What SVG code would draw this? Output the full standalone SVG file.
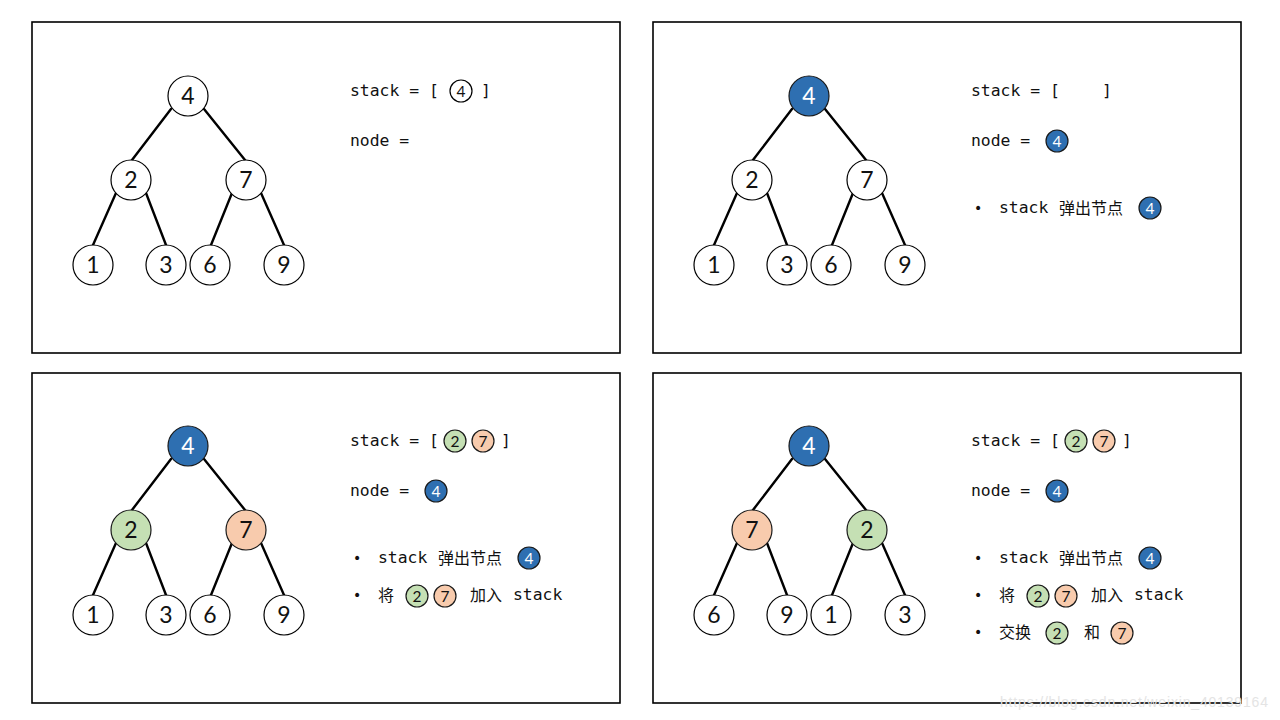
<svg xmlns="http://www.w3.org/2000/svg" width="1280" height="720" viewBox="0 0 1280 720">
<defs>
<style>
.panel{fill:#fff;stroke:#000;stroke-width:1.6}
.edge{stroke:#000;stroke-width:2.4;fill:none;stroke-linecap:round}
.n{fill:#fff;stroke:#000;stroke-width:1.2}
.blue{fill:#2E6FB1;stroke:#1a1a1a;stroke-width:1.2}
.green{fill:#C5E0B4;stroke:#1a1a1a;stroke-width:1.2}
.orange{fill:#F8CBAD;stroke:#1a1a1a;stroke-width:1.2}
.t{font-family:Lato,"Open Sans",sans-serif;font-size:23px;text-anchor:middle;fill:#111}
.tw{font-family:Lato,"Open Sans",sans-serif;font-size:23px;text-anchor:middle;fill:#fff}
.s{font-family:Lato,"Open Sans",sans-serif;font-size:15.5px;text-anchor:middle;fill:#111}
.sw{font-family:Lato,"Open Sans",sans-serif;font-size:15.5px;text-anchor:middle;fill:#fff}
.m{font-family:"DejaVu Sans Mono","Liberation Mono","Noto Sans CJK SC",monospace;font-size:16.4px;fill:#111;white-space:pre}
.c{font-family:"Noto Sans CJK SC",sans-serif;font-size:16px;fill:#111}
.b{font-family:"DejaVu Sans",sans-serif;font-size:14px;fill:#111}
.wm{font-family:"Liberation Sans",Arial,sans-serif;font-size:14px;fill:#e4e4e4}
</style>
</defs>
<rect width="1280" height="720" fill="#fff"/>

<!-- panel frames -->
<rect class="panel" x="32" y="22" width="588" height="331"/>
<rect class="panel" x="653" y="22" width="588" height="331"/>
<rect class="panel" x="32" y="373" width="588" height="330"/>
<rect class="panel" x="653" y="373" width="588" height="330"/>

<!-- connectors -->
<g id="connectors">
  <g transform="translate(0,0)">
    <line class="edge" x1="171" y1="109" x2="132" y2="160"/>
    <line class="edge" x1="204" y1="109" x2="245" y2="160"/>
    <line class="edge" x1="116" y1="193" x2="93" y2="245"/>
    <line class="edge" x1="146" y1="193" x2="166" y2="245"/>
    <line class="edge" x1="232" y1="193" x2="211" y2="245"/>
    <line class="edge" x1="261" y1="193" x2="284" y2="245"/>
  </g>
  <g transform="translate(621,0)">
    <line class="edge" x1="171" y1="109" x2="132" y2="160"/>
    <line class="edge" x1="204" y1="109" x2="245" y2="160"/>
    <line class="edge" x1="116" y1="193" x2="93" y2="245"/>
    <line class="edge" x1="146" y1="193" x2="166" y2="245"/>
    <line class="edge" x1="232" y1="193" x2="211" y2="245"/>
    <line class="edge" x1="261" y1="193" x2="284" y2="245"/>
  </g>
  <g transform="translate(0,350)">
    <line class="edge" x1="171" y1="109" x2="132" y2="160"/>
    <line class="edge" x1="204" y1="109" x2="245" y2="160"/>
    <line class="edge" x1="116" y1="193" x2="93" y2="245"/>
    <line class="edge" x1="146" y1="193" x2="166" y2="245"/>
    <line class="edge" x1="232" y1="193" x2="211" y2="245"/>
    <line class="edge" x1="261" y1="193" x2="284" y2="245"/>
  </g>
  <g transform="translate(621,350)">
    <line class="edge" x1="171" y1="109" x2="132" y2="160"/>
    <line class="edge" x1="204" y1="109" x2="245" y2="160"/>
    <line class="edge" x1="116" y1="193" x2="93" y2="245"/>
    <line class="edge" x1="146" y1="193" x2="166" y2="245"/>
    <line class="edge" x1="232" y1="193" x2="211" y2="245"/>
    <line class="edge" x1="261" y1="193" x2="284" y2="245"/>
  </g>
</g>

<!-- Panel 1 -->
<g id="p1-n4"><circle class="n" cx="188" cy="96" r="20"/><text class="t" x="188" y="104">4</text></g>
<g id="p1-n2"><circle class="n" cx="131" cy="180" r="20"/><text class="t" x="131" y="188">2</text></g>
<g id="p1-n7"><circle class="n" cx="246" cy="180" r="20"/><text class="t" x="246" y="188">7</text></g>
<g id="p1-n1"><circle class="n" cx="93" cy="265" r="20"/><text class="t" x="93" y="273">1</text></g>
<g id="p1-n3"><circle class="n" cx="166" cy="265" r="20"/><text class="t" x="166" y="273">3</text></g>
<g id="p1-n6"><circle class="n" cx="210" cy="265" r="20"/><text class="t" x="210" y="273">6</text></g>
<g id="p1-n9"><circle class="n" cx="284" cy="265" r="20"/><text class="t" x="284" y="273">9</text></g>
<g id="p1-text">
  <text class="m" x="350" y="96">stack = [</text>
  <circle class="n" cx="461" cy="91" r="11"/><text class="s" x="461" y="96.5">4</text>
  <text class="m" x="481" y="96">]</text>
  <text class="m" x="350" y="146">node =</text>
</g>

<!-- Panel 2 -->
<g id="p2-n4"><circle class="blue" cx="809" cy="96" r="20"/><text class="tw" x="809" y="104">4</text></g>
<g id="p2-n2"><circle class="n" cx="752" cy="180" r="20"/><text class="t" x="752" y="188">2</text></g>
<g id="p2-n7"><circle class="n" cx="867" cy="180" r="20"/><text class="t" x="867" y="188">7</text></g>
<g id="p2-n1"><circle class="n" cx="714" cy="265" r="20"/><text class="t" x="714" y="273">1</text></g>
<g id="p2-n3"><circle class="n" cx="787" cy="265" r="20"/><text class="t" x="787" y="273">3</text></g>
<g id="p2-n6"><circle class="n" cx="831" cy="265" r="20"/><text class="t" x="831" y="273">6</text></g>
<g id="p2-n9"><circle class="n" cx="905" cy="265" r="20"/><text class="t" x="905" y="273">9</text></g>
<g id="p2-text">
  <text class="m" x="971" y="96">stack = [</text>
  <text class="m" x="1102" y="96">]</text>
  <text class="m" x="971" y="146">node =</text>
  <circle class="blue" cx="1057" cy="141" r="11"/><text class="sw" x="1057" y="146.5">4</text>
  <text class="b" x="974" y="213">•</text>
  <text class="m" x="999" y="213">stack</text>
  <text class="c" x="1059" y="214">弹出节点</text>
  <circle class="blue" cx="1150" cy="208" r="11"/><text class="sw" x="1150" y="213.5">4</text>
</g>

<!-- Panel 3 -->
<g id="p3-n4"><circle class="blue" cx="188" cy="446" r="20"/><text class="tw" x="188" y="454">4</text></g>
<g id="p3-n2"><circle class="green" cx="131" cy="530" r="20"/><text class="t" x="131" y="538">2</text></g>
<g id="p3-n7"><circle class="orange" cx="246" cy="530" r="20"/><text class="t" x="246" y="538">7</text></g>
<g id="p3-n1"><circle class="n" cx="93" cy="615" r="20"/><text class="t" x="93" y="623">1</text></g>
<g id="p3-n3"><circle class="n" cx="166" cy="615" r="20"/><text class="t" x="166" y="623">3</text></g>
<g id="p3-n6"><circle class="n" cx="210" cy="615" r="20"/><text class="t" x="210" y="623">6</text></g>
<g id="p3-n9"><circle class="n" cx="284" cy="615" r="20"/><text class="t" x="284" y="623">9</text></g>
<g id="p3-text">
  <text class="m" x="350" y="446">stack = [</text>
  <circle class="green" cx="455" cy="441" r="11"/><text class="s" x="455" y="446.5">2</text>
  <circle class="orange" cx="483" cy="441" r="11"/><text class="s" x="483" y="446.5">7</text>
  <text class="m" x="501" y="446">]</text>
  <text class="m" x="350" y="496">node =</text>
  <circle class="blue" cx="436" cy="491" r="11"/><text class="sw" x="436" y="496.5">4</text>
  <text class="b" x="353" y="563">•</text>
  <text class="m" x="378" y="563">stack</text>
  <text class="c" x="438" y="564">弹出节点</text>
  <circle class="blue" cx="529" cy="558" r="11"/><text class="sw" x="529" y="563.5">4</text>
  <text class="b" x="353" y="600">•</text>
  <text class="c" x="378" y="601">将</text>
  <circle class="green" cx="417" cy="596" r="11"/><text class="s" x="417" y="601.5">2</text>
  <circle class="orange" cx="445" cy="596" r="11"/><text class="s" x="445" y="601.5">7</text>
  <text class="c" x="470" y="601">加入</text>
  <text class="m" x="513" y="600">stack</text>
</g>

<!-- Panel 4 -->
<g id="p4-n4"><circle class="blue" cx="809" cy="446" r="20"/><text class="tw" x="809" y="454">4</text></g>
<g id="p4-n7"><circle class="orange" cx="752" cy="530" r="20"/><text class="t" x="752" y="538">7</text></g>
<g id="p4-n2"><circle class="green" cx="867" cy="530" r="20"/><text class="t" x="867" y="538">2</text></g>
<g id="p4-n6"><circle class="n" cx="714" cy="615" r="20"/><text class="t" x="714" y="623">6</text></g>
<g id="p4-n9"><circle class="n" cx="787" cy="615" r="20"/><text class="t" x="787" y="623">9</text></g>
<g id="p4-n1"><circle class="n" cx="831" cy="615" r="20"/><text class="t" x="831" y="623">1</text></g>
<g id="p4-n3"><circle class="n" cx="905" cy="615" r="20"/><text class="t" x="905" y="623">3</text></g>
<g id="p4-text">
  <text class="m" x="971" y="446">stack = [</text>
  <circle class="green" cx="1076" cy="441" r="11"/><text class="s" x="1076" y="446.5">2</text>
  <circle class="orange" cx="1104" cy="441" r="11"/><text class="s" x="1104" y="446.5">7</text>
  <text class="m" x="1122" y="446">]</text>
  <text class="m" x="971" y="496">node =</text>
  <circle class="blue" cx="1057" cy="491" r="11"/><text class="sw" x="1057" y="496.5">4</text>
  <text class="b" x="974" y="563">•</text>
  <text class="m" x="999" y="563">stack</text>
  <text class="c" x="1059" y="564">弹出节点</text>
  <circle class="blue" cx="1150" cy="558" r="11"/><text class="sw" x="1150" y="563.5">4</text>
  <text class="b" x="974" y="600">•</text>
  <text class="c" x="999" y="601">将</text>
  <circle class="green" cx="1038" cy="596" r="11"/><text class="s" x="1038" y="601.5">2</text>
  <circle class="orange" cx="1066" cy="596" r="11"/><text class="s" x="1066" y="601.5">7</text>
  <text class="c" x="1091" y="601">加入</text>
  <text class="m" x="1134" y="600">stack</text>
  <text class="b" x="974" y="637">•</text>
  <text class="c" x="999" y="638">交换</text>
  <circle class="green" cx="1057" cy="633" r="11"/><text class="s" x="1057" y="638.5">2</text>
  <text class="c" x="1084" y="638">和</text>
  <circle class="orange" cx="1122" cy="633" r="11"/><text class="s" x="1122" y="638.5">7</text>
</g>

<text class="wm" x="1000" y="707" textLength="268">https://blog.csdn.net/weixin_40139164</text>
</svg>
